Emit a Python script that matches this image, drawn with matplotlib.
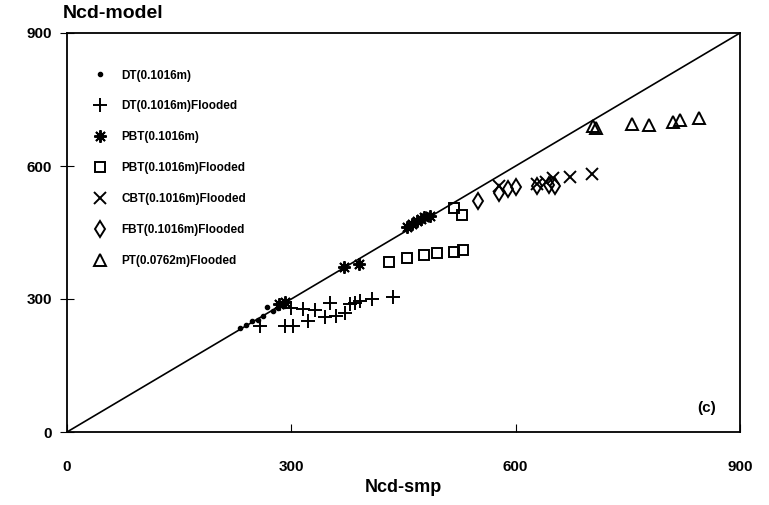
import numpy as np
import matplotlib.pyplot as plt

plt.rcParams['font.family'] = ['Liberation Sans', 'DejaVu Sans']
plt.rcParams['font.weight'] = 'bold'

# data (Ncd-smp, Ncd-model)
dt_x = [232, 240, 248, 255, 262, 268, 275, 282, 290]
dt_y = [235, 242, 250, 252, 262, 283, 272, 280, 285]

dtf_x = [258, 292, 302, 300, 315, 322, 332, 345, 352, 360, 372, 378, 385, 392, 408, 436]
dtf_y = [240, 238, 240, 280, 278, 250, 275, 260, 290, 262, 268, 288, 290, 296, 300, 305]

pbt_x = [283, 292, 370, 390, 455, 462, 468, 473, 478, 485]
pbt_y = [288, 294, 372, 378, 462, 470, 475, 480, 485, 488]

pbtf_x = [430, 455, 478, 495, 517, 530, 518, 528]
pbtf_y = [383, 393, 400, 403, 405, 410, 505, 490]

cbt_x = [578, 628, 640, 650, 672, 702]
cbt_y = [555, 560, 565, 572, 575, 583]

fbt_x = [550, 578, 590, 600, 628, 645, 652]
fbt_y = [522, 540, 548, 552, 556, 558, 555]

pt_x = [703, 708, 755, 778, 810, 820, 845]
pt_y = [690, 686, 695, 693, 700, 703, 708]

labels = ["DT(0.1016m)", "DT(0.1016m)Flooded", "PBT(0.1016m)", "PBT(0.1016m)Flooded",
          "CBT(0.1016m)Flooded", "FBT(0.1016m)Flooded", "PT(0.0762m)Flooded"]

fig = plt.figure(figsize=(7.69, 5.05), dpi=100)
ax = fig.add_axes([67 / 769, 1 - 432 / 505, (740 - 67) / 769, (432 - 33) / 505])

ax.plot([0, 900], [0, 900], color='black', lw=1.2, zorder=1)

kw = dict(ls='none', color='black', mfc='none', mew=1.4)
ax.plot(dt_x, dt_y, marker='o', ms=3, ls='none', color='black', label=labels[0])
ax.plot(dtf_x, dtf_y, marker='+', ms=10, label=labels[1], **kw)
ax.plot(pbt_x, pbt_y, marker=(8, 2, 0), ms=9, label=labels[2], **kw)
ax.plot(pbtf_x, pbtf_y, marker='s', ms=7.5, label=labels[3], **kw)
ax.plot(cbt_x, cbt_y, marker='x', ms=8, label=labels[4], **kw)
ax.plot(fbt_x, fbt_y, marker='d', ms=8, label=labels[5], **kw)
ax.plot(pt_x, pt_y, marker='^', ms=8.5, label=labels[6], **kw)

ax.set_xlim(0, 900)
ax.set_ylim(0, 900)
ax.set_xticks([0, 300, 600, 900])
ax.set_yticks([0, 300, 600, 900])
ax.tick_params(axis='x', direction='in', length=6, labelsize=11, pad=20)
ax.tick_params(axis='y', direction='inout', length=10, labelsize=11, pad=6)
for s in ax.spines.values():
    s.set_linewidth(1.3)

ax.set_xlabel("Ncd-smp", fontsize=13, fontweight='bold', labelpad=4)
fig.text(63 / 769, 1 - 14 / 505, "Ncd-model", fontsize=14, fontweight='bold', va='center', ha='left')
ax.text(868, 55, "(c)", fontsize=11, fontweight='bold', ha='right', va='center')

ax.legend(loc='upper left', bbox_to_anchor=(0.025, 0.935), frameon=False,
          labelspacing=1.6, handlelength=1.0, handletextpad=1.3,
          prop={'size': 8.5, 'weight': 'bold'})

fig.savefig("out.png", dpi=100)
